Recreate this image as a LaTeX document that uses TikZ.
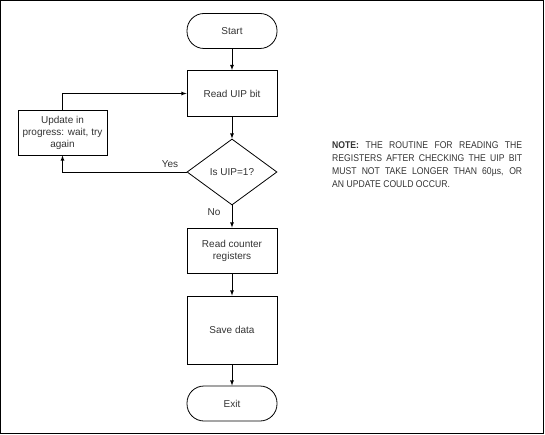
\documentclass[tikz,border=0pt]{standalone}
\usepackage{fontspec}
\setmainfont{Liberation Sans}
\newfontfamily\narrowfont[FakeStretch=0.88]{Liberation Sans}
\usetikzlibrary{shapes,arrows}
\begin{document}
\begin{tikzpicture}[x=1pt,y=-1pt,
		every node/.style={text=black!80},
		caja/.style={draw,line width=0.8pt,minimum width=90pt,align=center,font=\fontsize{10}{12}\selectfont},
		term/.style={caja,rounded corners=17pt,minimum height=35pt},
		rombo/.style={draw,line width=0.8pt,diamond,aspect=1.36,inner sep=0pt,minimum width=90pt,minimum height=66pt,font=\fontsize{10}{12}\selectfont},
		flecha/.style={-latex,line width=0.8pt}]
		\useasboundingbox (0,0) rectangle (545,435);
		\draw[line width=1pt] (0.5,0.5) rectangle (543.5,433.5); % marco
		\node[term] (inicio) at (232,31) {Start};
		\node[caja,minimum height=46pt] (leer) at (232,93.5) {Read UIP bit};
		\node[rombo] (uip) at (232,172) {Is UIP=1?};
		\node[caja,minimum width=89pt,minimum height=45pt] (espera) at (62.5,132.5) {Update in\\progress: wait, try\\again};
		\node[caja,minimum height=45pt] (contador) at (232,250.5) {Read counter\\registers};
		\node[caja,minimum height=68pt] (guardar) at (232,330) {Save data};
		\node[term] (fin) at (232,403.5) {Exit};
		\draw[flecha] (inicio) -- (leer);
		\draw[flecha] (leer) -- (uip);
		\draw[flecha] (uip) -- (contador);
		\draw[flecha] (contador) -- (guardar);
		\draw[flecha] (guardar) -- (fin);
		\draw[flecha] (uip.west) -| (espera.south);
		\draw[flecha] (espera.north) |- (leer.west);
		\node[font=\fontsize{10}{12}\selectfont] (si) at (170,164) {Yes};
		\node[font=\fontsize{10}{12}\selectfont] (no) at (214,212) {No};
		\node[anchor=north west,text width=190pt,align=justify,inner sep=0pt,
			font=\narrowfont\fontsize{9.8}{13}\selectfont] (nota) at (332,141.5)
			{\hyphenpenalty=10000 \textbf{NOTE:} THE ROUTINE FOR READING THE\linebreak REGISTERS AFTER CHECKING THE UIP BIT\linebreak MUST NOT TAKE LONGER THAN 60\textmu s, OR\linebreak AN UPDATE COULD OCCUR.};
\end{tikzpicture}
\end{document}
